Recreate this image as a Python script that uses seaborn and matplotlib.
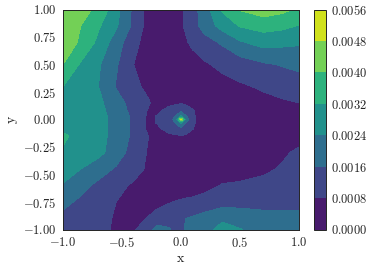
import numpy as np
import matplotlib
matplotlib.use("Agg")
import matplotlib.pyplot as plt
import seaborn as sns

# grid positions, finer around the spike at the origin
x_grid = [-1, -.85, -.7, -.55, -.4, -.28, -.2, -.1, -.04, 0, .04, .1, .2, .35, .5, .7, .85, 1]
y_grid = [1, .85, .7, .5, .3, .15, .08, .03, 0, -.03, -.08, -.15, -.3, -.45, -.6, -.75, -.9, -1]

# values, in units of 1e-4, one row per y_grid entry
rows = [
    [48.3, 43, 38, 27, 14, 5, 4, 4, 5, 7, 9, 13, 20, 33, 40.5, 44, 42, 39],
    [45, 40, 33, 25, 14, 5, 4, 4, 5, 7, 9, 13, 19, 27, 32.5, 35, 34, 31.5],
    [44, 39, 30, 20, 10, 5, 4, 4, 4, 5, 7, 10, 13, 17, 23, 27, 26, 25],
    [40, 31, 25, 17, 8, 5, 4, 3, 3, 3, 3, 4, 7, 10, 12, 15, 16.5, 18],
    [32, 29, 24, 15.5, 10, 6, 4, 3, 3, 3, 3, 3, 4, 5, 7, 9, 10.5, 12],
    [29, 28, 26, 19, 13, 9, 5, 6.5, 7, 7.5, 7, 5.5, 4, 4, 5, 6, 7, 8],
    [28, 28, 26, 21, 13, 7.5, 7, 10, 12, 13, 11, 8.6, 4, 3, 3, 4, 5, 6],
    [28, 28, 26, 22, 14, 7, 8.3, 12, 17, 26, 17, 9, 4, 3, 3, 3, 4, 5],
    [28, 28, 26, 22, 14, 6.5, 8.5, 12, 20, 50, 22, 9, 4, 3, 2, 3, 3, 4],
    [28, 28, 26, 22, 14, 7, 8.3, 12, 17, 25, 16, 9, 4, 3, 2, 3, 3, 4],
    [30, 28, 26, 22, 14, 6.5, 7, 11, 13, 14.5, 12, 8.3, 4, 3, 2, 3, 3, 5],
    [33.5, 29, 26, 22, 14, 8.2, 6, 6.5, 7, 7.5, 7, 6, 4, 3, 3, 4, 5, 6],
    [31, 28.5, 26, 20.5, 12, 7.5, 5, 3, 3, 3, 3, 3, 3, 4, 5, 6, 7, 9],
    [27, 24, 20, 15, 10.5, 7, 5, 3, 3, 3, 3, 3, 3, 4, 5, 7, 8.5, 11],
    [23.5, 18.5, 14, 10, 7, 5, 4, 3, 3, 3, 3, 3.5, 5.5, 8.5, 9, 9.5, 11, 12],
    [18, 14.5, 11, 8, 5.5, 4, 4.5, 7.5, 8.5, 9, 9.5, 10, 11, 12.5, 13, 13, 13.5, 14],
    [14, 11.5, 9.5, 7.5, 5, 8.5, 13, 13.5, 14, 15.5, 16, 17, 19, 23, 21, 19, 18.5, 18],
    [13, 11, 9, 7.5, 7, 14, 18, 16.5, 14, 15, 16.5, 19, 22, 26, 24.3, 21, 20, 20],
]

levels = [0, .0008, .0016, .0024, .0032, .0040, .0048, .0056]
x_ticks = [-1, -.5, 0, .5, 1]
y_ticks = [-1, -.75, -.5, -.25, 0, .25, .5, .75, 1]

sns.set_style("ticks")
plt.rcParams.update({
    "font.family": "cmr10",
    "mathtext.fontset": "cm",
    "axes.formatter.use_mathtext": True,
    "axes.unicode_minus": False,
    "font.size": 9,
    "axes.edgecolor": "#222222",
    "text.color": "#222222",
    "xtick.labelcolor": "#222222",
    "ytick.labelcolor": "#222222",
    "axes.labelcolor": "#222222",
    "axes.linewidth": 0.7,
    "xtick.major.size": 0,
    "ytick.major.size": 0,
})

W, H = 371, 271
fig = plt.figure(figsize=(W / 100, H / 100), dpi=100)
ax = fig.add_axes([63 / W, 1 - 229.5 / H, 236 / W, 220 / H])
cax = fig.add_axes([314 / W, 1 - 229.5 / H, 11.5 / W, 220 / H])

values = np.array(rows) * 1e-4
cmap = sns.color_palette("viridis", as_cmap=True)
cs = ax.contourf(x_grid, y_grid, values, levels=levels, cmap=cmap)

ax.set_xlim(-1, 1)
ax.set_ylim(-1, 1)
ax.set_xticks(x_ticks)
ax.set_yticks(y_ticks)
ax.set_xticklabels([f"${v:.1f}$" for v in x_ticks])
ax.set_yticklabels([f"${v:.2f}$" for v in y_ticks])
ax.set_xlabel("x", fontsize=10, labelpad=2)
ax.set_ylabel("y", fontsize=10, labelpad=4)
ax.tick_params(labelsize=9, pad=4.5)

cbar = fig.colorbar(cs, cax=cax)
cbar.set_ticks(levels)
cbar.set_ticklabels([f"${v:.4f}$" for v in levels])
cbar.ax.tick_params(labelsize=9, pad=4)
cbar.outline.set_linewidth(0.7)

fig.savefig("out.png", dpi=100)
plt.close(fig)
